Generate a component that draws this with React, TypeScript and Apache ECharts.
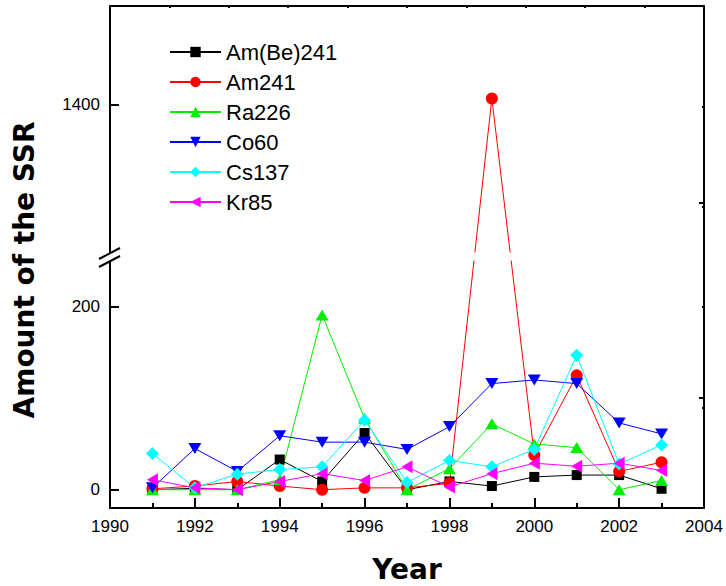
import React, { useEffect, useRef } from "react";
import * as echarts from "echarts";

const years = [1991, 1992, 1993, 1994, 1995, 1996, 1997, 1998, 1999, 2000, 2001, 2002, 2003];
const amBe241 = [0, 1.5, 0, 33, 9, 62, 0, 9, 4, 14, 16, 16, 1];
const am241 = [1, 4, 9, 4, 0, 2, 2, 7, 1406, 38, 125, 20, 30];
const ra226 = [0, 0, 0, 11, 191, 78, 0, 23, 72, 50, 46, 0, 10];
const co60 = [2, 45, 20, 59, 52, 52, 44, 69, 116, 120, 116, 73, 61];
const cs137 = [39.5, 2, 17, 22, 25, 76, 8, 32, 25, 44, 147, 28, 49];
const kr85 = [11, 2, 0, 9, 17.5, 10, 25, 3, 17.5, 29, 25.6, 29, 21];

const lowerMajor = [0, 200];
const lowerMinor = [100];
const upperMajor = [1400];
const upperMinor = [1300];

// broken y axis: two segments
const LOWER = { min: -20, max: 250, top: 261, bottom: 508 };
const UPPER = { min: 1250, max: 1500, top: 6, bottom: 252 };

const seriesDefs = [
  { name: "Am(Be)241", data: amBe241, color: "#000000", symbol: "rect", size: 10, rotate: 0 },
  { name: "Am241", data: am241, color: "#ff0000", symbol: "circle", size: 12, rotate: 0 },
  { name: "Ra226", data: ra226, color: "#00ee00", symbol: "triangle", size: [13, 11], rotate: 0 },
  { name: "Co60", data: co60, color: "#0000ff", symbol: "triangle", size: [13, 11], rotate: 180 },
  { name: "Cs137", data: cs137, color: "#00ffff", symbol: "diamond", size: 13, rotate: 0 },
  { name: "Kr85", data: kr85, color: "#ff00ff", symbol: "triangle", size: [13, 11], rotate: 90 },
];

const FONT = "'Liberation Sans', Arial, sans-serif";
const BOLD = "'DejaVu Sans', Verdana, sans-serif";

type Seg = { min: number; max: number; top: number; bottom: number };
const toPx = (s: Seg, v: number) => s.bottom - ((v - s.min) / (s.max - s.min)) * (s.bottom - s.top);
const fromPx = (s: Seg, p: number) => s.min + ((s.bottom - p) / (s.bottom - s.top)) * (s.max - s.min);
// screen position through the broken axis, re-expressed in the given segment's scale
const project = (s: Seg, v: number) => {
  const px = v <= LOWER.max ? toPx(LOWER, v) : toPx(UPPER, v);
  return fromPx(s, px);
};

export default function App() {
  const ref = useRef<HTMLDivElement>(null);
  useEffect(() => {
    const chart = echarts.init(ref.current!, null, { renderer: "svg" });
    const axisLine = { show: true, onZero: false, lineStyle: { color: "#000", width: 2 } };
    const plain = (v: number) => String(v);
    const mkSeries = (gridPart: number) => {
      const seg = gridPart === 0 ? LOWER : UPPER;
      return seriesDefs.map((s) => ({
        name: s.name,
        type: "line",
        xAxisIndex: gridPart,
        yAxisIndex: gridPart === 0 ? 0 : 2,
        data: years.map((y, i) => [y, project(seg, s.data[i])]),
        symbol: s.symbol,
        symbolSize: s.size,
        symbolRotate: s.rotate,
        clip: true,
        lineStyle: { color: s.color, width: 1 },
        itemStyle: { color: s.color },
        emphasis: { disabled: true },
      }));
    };

    chart.setOption({
      animation: false,
      backgroundColor: "#fff",
      grid: [
        { left: 110, right: 22, top: LOWER.top, bottom: 586 - LOWER.bottom },
        { left: 110, right: 22, top: UPPER.top, height: UPPER.bottom - UPPER.top },
        { left: 110, right: 22, top: 6, bottom: 78 },
      ],
      xAxis: [
        {
          gridIndex: 0,
          type: "value",
          min: 1990,
          max: 2004,
          interval: 2,
          axisLine,
          axisTick: { show: true, inside: true, length: 10, lineStyle: { color: "#000", width: 2 } },
          minorTick: { show: true, splitNumber: 2, length: 5, lineStyle: { color: "#000", width: 2 } },
          axisLabel: { color: "#000", fontSize: 17, fontFamily: FONT, margin: 10, formatter: plain },
          splitLine: { show: false },
        },
        { gridIndex: 1, type: "value", min: 1990, max: 2004, show: false },
        {
          gridIndex: 2,
          type: "value",
          position: "top",
          min: 0,
          max: 10,
          interval: 1,
          axisLine,
          axisTick: { show: true, inside: true, length: 2, lineStyle: { color: "#000", width: 2 } },
          axisLabel: { show: false },
          splitLine: { show: false },
        },
      ],
      yAxis: [
        {
          gridIndex: 0,
          type: "value",
          min: LOWER.min,
          max: LOWER.max,
          axisLine: { show: false, onZero: false },
          axisTick: { show: true, inside: true, length: 9, customValues: lowerMajor, lineStyle: { color: "#000", width: 2 } },
          axisLabel: { customValues: lowerMajor, color: "#000", fontSize: 17, fontFamily: FONT, margin: 10, formatter: plain },
          splitLine: { show: false },
        },
        {
          gridIndex: 0,
          type: "value",
          min: LOWER.min,
          max: LOWER.max,
          axisLine: { show: false, onZero: false },
          axisTick: { show: true, inside: true, length: 5, customValues: lowerMinor, lineStyle: { color: "#000", width: 2 } },
          axisLabel: { show: false },
          splitLine: { show: false },
        },
        {
          gridIndex: 1,
          type: "value",
          min: UPPER.min,
          max: UPPER.max,
          axisLine: { show: false, onZero: false },
          axisTick: { show: true, inside: true, length: 9, customValues: upperMajor, lineStyle: { color: "#000", width: 2 } },
          axisLabel: { customValues: upperMajor, color: "#000", fontSize: 17, fontFamily: FONT, margin: 10, formatter: plain },
          splitLine: { show: false },
        },
        {
          gridIndex: 1,
          type: "value",
          min: UPPER.min,
          max: UPPER.max,
          axisLine: { show: false, onZero: false },
          axisTick: { show: true, inside: true, length: 5, customValues: upperMinor, lineStyle: { color: "#000", width: 2 } },
          axisLabel: { show: false },
          splitLine: { show: false },
        },
        {
          gridIndex: 2,
          type: "value",
          position: "left",
          min: 0,
          max: 5,
          interval: 1,
          axisLine,
          axisTick: { show: false },
          axisLabel: { show: false },
          splitLine: { show: false },
        },
        {
          gridIndex: 2,
          type: "value",
          position: "right",
          min: 0,
          max: 5,
          interval: 1,
          axisLine,
          axisTick: { show: true, inside: true, length: 2, lineStyle: { color: "#000", width: 2 } },
          axisLabel: { show: false },
          splitLine: { show: false },
        },
      ],
      legend: {
        orient: "vertical",
        left: 169,
        top: 41,
        padding: 0,
        itemWidth: 51,
        itemHeight: 13,
        itemGap: 8,
        data: seriesDefs.map((s) => s.name),
        textStyle: { color: "#000", fontSize: 22, fontFamily: FONT, lineHeight: 22 },
        selectedMode: false,
      },
      series: [...mkSeries(0), ...mkSeries(1)],
      graphic: [
        {
          type: "polygon",
          z: 100,
          shape: { points: [[99, 259], [120, 248], [120, 256], [99, 267]] },
          style: { fill: "#fff", stroke: null },
        },
        {
          type: "line",
          z: 101,
          shape: { x1: 99, y1: 259, x2: 120, y2: 248 },
          style: { stroke: "#000", lineWidth: 2 },
        },
        {
          type: "line",
          z: 101,
          shape: { x1: 99, y1: 267, x2: 120, y2: 256 },
          style: { stroke: "#000", lineWidth: 2 },
        },
        {
          type: "text",
          x: 24,
          y: 270,
          rotation: Math.PI / 2,
          style: {
            text: "Amount of the SSR",
            fill: "#000",
            font: `bold 28px ${BOLD}`,
            textAlign: "center",
            textVerticalAlign: "middle",
          },
        },
        {
          type: "text",
          x: 407,
          y: 569,
          style: {
            text: "Year",
            fill: "#000",
            font: `bold 28px ${BOLD}`,
            textAlign: "center",
            textVerticalAlign: "middle",
          },
        },
      ],
    });
    return () => chart.dispose();
  }, []);
  return (
    <div
      ref={ref}
      style={{ position: "fixed", left: 0, top: 0, width: 726, height: 586, background: "#fff" }}
    />
  );
}
